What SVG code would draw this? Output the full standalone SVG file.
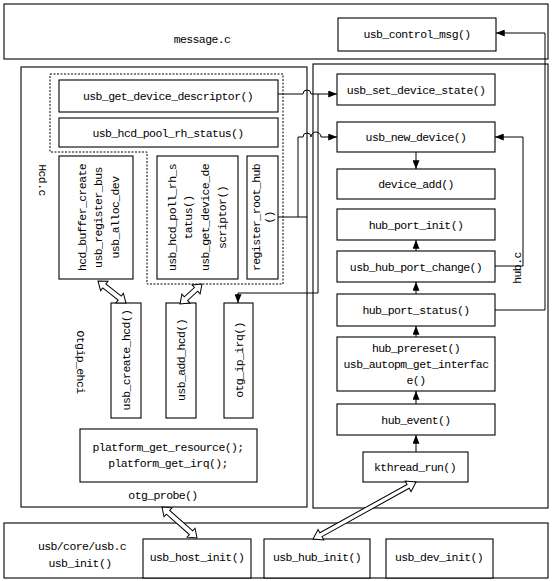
<svg xmlns="http://www.w3.org/2000/svg" width="552" height="581" viewBox="0 0 552 581">
<defs>
<style>
rect.b{fill:#fff;stroke:#000;stroke-width:1.1}
rect.g{fill:none;stroke:#000;stroke-width:1.1}
text{font-family:"Liberation Mono","DejaVu Sans Mono",monospace;font-size:11.5px;letter-spacing:-0.6px;fill:#000;text-anchor:middle;dominant-baseline:central}
.c{fill:none;stroke:#000;stroke-width:1}
.dbl{fill:#fff;stroke:#000;stroke-width:1}
.dot{fill:none;stroke:#000;stroke-width:1;stroke-dasharray:2 1.5}
</style>
<marker id="ah" viewBox="0 0 10 8" refX="10" refY="4" markerWidth="9" markerHeight="7" markerUnits="userSpaceOnUse" orient="auto">
<path d="M0,0 L10,4 L0,8 Z" fill="#000"/>
</marker>
</defs>
<rect width="552" height="581" fill="#fff"/>

<g id="message_c">
<rect class="g" x="4" y="4" width="544" height="55"/>
<text x="202" y="39">message.c</text>
</g>
<g id="usb_control_msg">
<rect class="b" x="338" y="18" width="158" height="33"/>
<text x="417" y="34">usb_control_msg()</text>
</g>

<g id="otgip_ehci">
<rect class="g" x="21" y="67" width="286" height="440"/>
<text transform="translate(80,362) rotate(90)">Otgip_ehci</text>
</g>
<g id="hcd_c">
<path class="dot" d="M50,74 H283 V284 H147 V152 H50 Z"/>
<text transform="translate(42,180) rotate(90)">Hcd.c</text>
</g>
<g id="usb_get_device_descriptor">
<rect class="b" x="59" y="80" width="219" height="32"/>
<text x="168" y="96">usb_get_device_descriptor()</text>
</g>
<g id="usb_hcd_pool_rh_status">
<rect class="b" x="59" y="118" width="219" height="29"/>
<text x="168" y="133">usb_hcd_pool_rh_status()</text>
</g>
<g id="hcd_buffer_create">
<rect class="b" x="59" y="156" width="74" height="123"/>
<g transform="translate(98.5,217.5) rotate(-90)">
<text x="0" y="-16.5">hcd_buffer_create</text>
<text x="0" y="0">usb_register_bus</text>
<text x="0" y="16.5">usb_alloc_dev</text>
</g>
</g>
<g id="usb_hcd_poll_rh_status">
<rect class="b" x="157" y="156" width="81" height="123"/>
<g transform="translate(197,217.5) rotate(-90)">
<text x="0" y="-25">usb_hcd_poll_rh_s</text>
<text x="0" y="-8.3">tatus()</text>
<text x="0" y="8.3">usb_get_device_de</text>
<text x="0" y="25">scriptor()</text>
</g>
</g>
<g id="register_root_hub">
<rect class="b" x="247" y="156" width="31" height="123"/>
<g transform="translate(263,217.5) rotate(-90)">
<text x="0" y="-6.5">register_root_hub</text>
<text x="0" y="6.5">()</text>
</g>
</g>
<g id="usb_create_hcd">
<rect class="b" x="111" y="303" width="30" height="115"/>
<text transform="translate(126,360) rotate(-90)">usb_create_hcd()</text>
</g>
<g id="usb_add_hcd">
<rect class="b" x="166" y="303" width="30" height="115"/>
<text transform="translate(181,360) rotate(-90)">usb_add_hcd()</text>
</g>
<g id="otg_ip_irq">
<rect class="b" x="224" y="303" width="29" height="115"/>
<text transform="translate(239,360) rotate(-90)">otg_ip_irq()</text>
</g>
<g id="platform">
<rect class="b" x="80" y="429" width="177" height="53"/>
<text x="168" y="447">platform_get_resource();</text>
<text x="168" y="463">platform_get_irq();</text>
</g>
<g id="otg_probe">
<text x="163" y="495">otg_probe()</text>
</g>

<g id="hub_c">
<rect class="g" x="313" y="64" width="235" height="444"/>
<text transform="translate(517,268) rotate(-90)">hub.c</text>
</g>
<g id="usb_set_device_state">
<rect class="b" x="337" y="74" width="158" height="31"/>
<text x="416" y="90">usb_set_device_state()</text>
</g>
<g id="usb_new_device">
<rect class="b" x="337" y="122" width="158" height="30"/>
<text x="416" y="137">usb_new_device()</text>
</g>
<g id="device_add">
<rect class="b" x="337" y="169" width="158" height="30"/>
<text x="416" y="184">device_add()</text>
</g>
<g id="hub_port_init">
<rect class="b" x="337" y="209" width="158" height="31"/>
<text x="416" y="225">hub_port_init()</text>
</g>
<g id="usb_hub_port_change">
<rect class="b" x="337" y="251" width="158" height="31"/>
<text x="416" y="267">usb_hub_port_change()</text>
</g>
<g id="hub_port_status">
<rect class="b" x="337" y="294" width="158" height="32"/>
<text x="416" y="310">hub_port_status()</text>
</g>
<g id="hub_prereset">
<rect class="b" x="337" y="337" width="158" height="54"/>
<text x="416" y="348">hub_prereset()</text>
<text x="416" y="364">usb_autopm_get_interfac</text>
<text x="416" y="380">e()</text>
</g>
<g id="hub_event">
<rect class="b" x="337" y="404" width="158" height="31"/>
<text x="416" y="420">hub_event()</text>
</g>
<g id="kthread_run">
<rect class="b" x="363" y="452" width="105" height="30"/>
<text x="415" y="467">kthread_run()</text>
</g>

<g id="usb_core">
<rect class="g" x="4" y="523" width="544" height="55"/>
<text x="82" y="546">usb/core/usb.c</text>
<text x="80" y="563">usb_init()</text>
</g>
<g id="usb_host_init">
<rect class="b" x="143" y="539" width="108" height="39"/>
<text x="197" y="557">usb_host_init()</text>
</g>
<g id="usb_hub_init">
<rect class="b" x="264" y="539" width="106" height="39"/>
<text x="317" y="557">usb_hub_init()</text>
</g>
<g id="usb_dev_init">
<rect class="b" x="386" y="539" width="107" height="39"/>
<text x="439" y="557">usb_dev_init()</text>
</g>

<g id="connectors">
<path class="c" d="M278,94 H303 A4,4 0 0 1 311,94 H337" marker-end="url(#ah)"/>
<path class="c" d="M318,94 V293 H238 V303" marker-end="url(#ah)"/>
<path class="c" d="M278,217 H307 M298,217 V137 H303 A4,4 0 0 1 311,137 A5,5 0 0 1 321,137 H337" marker-end="url(#ah)"/>
<path class="c" d="M495,266 H523 V137 H495" marker-end="url(#ah)"/>
<path class="c" d="M495,310 H545 V33 H496" marker-end="url(#ah)"/>
<path class="c" d="M416,152 V169" marker-end="url(#ah)"/>
<path class="c" d="M416,251 V240" marker-end="url(#ah)"/>
<path class="c" d="M416,294 V282" marker-end="url(#ah)"/>
<path class="c" d="M416,337 V326" marker-end="url(#ah)"/>
<path class="c" d="M416,404 V391" marker-end="url(#ah)"/>
<path class="c" d="M416,452 V435" marker-end="url(#ah)"/>
<path class="dbl" transform="translate(98,281) rotate(38.2)" d="M0,0 L8,-6 L8,-2.5 L27.6,-2.5 L27.6,-6 L35.6,0 L27.6,6 L27.6,2.5 L8,2.5 L8,6 Z"/>
<path class="dbl" transform="translate(202,284) rotate(137.7)" d="M0,0 L8,-6 L8,-2.5 L21.7,-2.5 L21.7,-6 L29.7,0 L21.7,6 L21.7,2.5 L8,2.5 L8,6 Z"/>
<path class="dbl" transform="translate(162,507) rotate(41.5)" d="M0,0 L8,-6 L8,-2.5 L38.8,-2.5 L38.8,-6 L46.8,0 L38.8,6 L38.8,2.5 L8,2.5 L8,6 Z"/>
<path class="dbl" transform="translate(416,482) rotate(151)" d="M0,0 L9,-6 L9,-2.2 L108.7,-2.2 L108.7,-6 L117.7,0 L108.7,6 L108.7,2.2 L9,2.2 L9,6 Z"/>
</g>
</svg>
